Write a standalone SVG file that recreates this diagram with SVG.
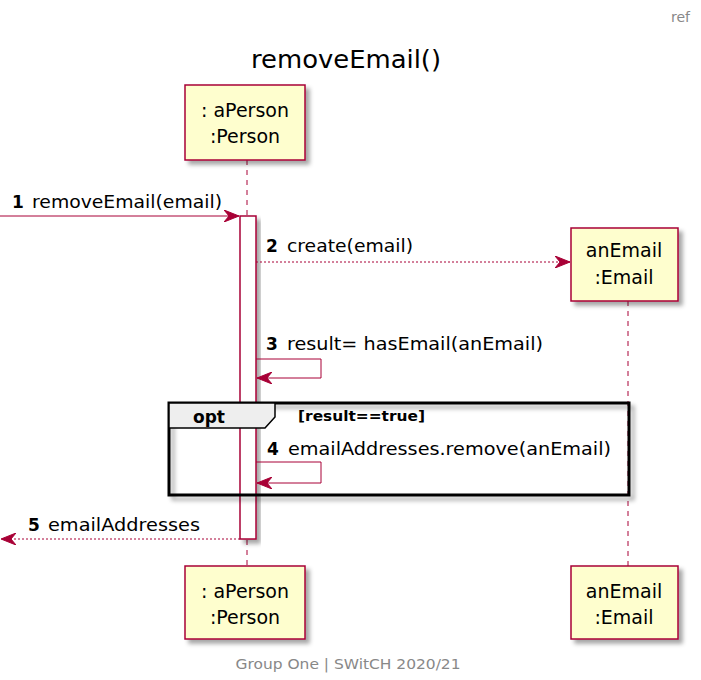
<svg xmlns="http://www.w3.org/2000/svg" width="701" height="680" viewBox="0 0 701 680">
<style>
text{font-family:"DejaVu Sans","Liberation Sans",sans-serif;fill:#000}
.box{fill:#FEFECE;stroke:#A80036;stroke-width:1.5}
.life{stroke:#A80036;stroke-width:1;stroke-dasharray:5,5;fill:none}
.msg{stroke:#A80036;stroke-width:1;fill:none}
.dot{stroke:#A80036;stroke-width:1;stroke-dasharray:2,2;fill:none}
.pt{font-size:19px;text-anchor:middle}
.mt{font-size:17px}
.num{font-weight:bold}
.gray{fill:#888888}
</style>
<defs>
<filter id="sh" x="-20%" y="-20%" width="150%" height="150%">
<feGaussianBlur in="SourceAlpha" stdDeviation="2"/>
<feOffset dx="4" dy="4" result="b"/>
<feFlood flood-color="#000" flood-opacity="0.35"/>
<feComposite in2="b" operator="in"/>
<feMerge><feMergeNode/><feMergeNode in="SourceGraphic"/></feMerge>
</filter>
<marker id="ah" viewBox="0 0 16 12" refX="15" refY="6" markerWidth="16" markerHeight="12" markerUnits="userSpaceOnUse" orient="auto">
<path d="M0,0 L15,6 L0,12 L5,6 Z" fill="#A80036" stroke="#A80036" stroke-width="1"/>
</marker>
</defs>
<rect width="701" height="680" fill="#fff"/>
<text x="690" y="22" class="gray" font-size="14" text-anchor="end">ref</text>
<text x="346" y="68" font-size="24" text-anchor="middle" textLength="190" lengthAdjust="spacingAndGlyphs">removeEmail()</text>

<g id="lifelines">
<line class="life" x1="247" y1="160" x2="247" y2="566"/>
<line class="life" x1="628" y1="301" x2="628" y2="566"/>
</g>

<g id="activation">
<rect x="240" y="216" width="16" height="323" fill="#fff" stroke="#A80036" stroke-width="1.5" filter="url(#sh)"/>
</g>

<g id="frame-opt">
<rect x="169" y="403" width="460" height="92" fill="none" stroke="#000" stroke-width="3" filter="url(#sh)"/>
<path d="M169,403 L275,403 L275,417 L265,428 L169,428 Z" fill="#EEEEEE" stroke="#000" stroke-width="1.5"/>
<text x="193" y="423" font-size="17" font-weight="bold">opt</text>
<text x="298" y="421" font-size="14" font-weight="bold" textLength="127" lengthAdjust="spacingAndGlyphs">[result==true]</text>
</g>

<g id="node-aPerson-top">
<rect class="box" x="185" y="85" width="120" height="75" filter="url(#sh)"/>
<text class="pt" x="245" y="117">: aPerson</text>
<text class="pt" x="245" y="143">:Person</text>
</g>
<g id="node-anEmail-top">
<rect class="box" x="571" y="228" width="107" height="73" filter="url(#sh)"/>
<text class="pt" x="624" y="257">anEmail</text>
<text class="pt" x="624" y="284">:Email</text>
</g>
<g id="node-aPerson-bottom">
<rect class="box" x="185" y="566" width="120" height="73" filter="url(#sh)"/>
<text class="pt" x="245" y="598">: aPerson</text>
<text class="pt" x="245" y="624">:Person</text>
</g>
<g id="node-anEmail-bottom">
<rect class="box" x="571" y="566" width="107" height="73" filter="url(#sh)"/>
<text class="pt" x="624" y="598">anEmail</text>
<text class="pt" x="624" y="624">:Email</text>
</g>

<g id="connectors">
<line class="msg" x1="0" y1="216" x2="239" y2="216" marker-end="url(#ah)"/>
<text class="mt" y="208"><tspan class="num" x="12">1</tspan><tspan x="32" textLength="190" lengthAdjust="spacingAndGlyphs">removeEmail(email)</tspan></text>

<line class="dot" x1="256" y1="262" x2="570" y2="262" marker-end="url(#ah)"/>
<text class="mt" y="252"><tspan class="num" x="266">2</tspan><tspan x="287" textLength="126" lengthAdjust="spacingAndGlyphs">create(email)</tspan></text>

<polyline class="msg" points="256,359 321,359 321,378 257,378" marker-end="url(#ah)"/>
<text class="mt" y="350"><tspan class="num" x="266">3</tspan><tspan x="287" textLength="256" lengthAdjust="spacingAndGlyphs">result= hasEmail(anEmail)</tspan></text>

<polyline class="msg" points="256,462 321,462 321,483 257,483" marker-end="url(#ah)"/>
<text class="mt" y="455"><tspan class="num" x="267">4</tspan><tspan x="288" textLength="323" lengthAdjust="spacingAndGlyphs">emailAddresses.remove(anEmail)</tspan></text>

<line class="dot" x1="240" y1="539" x2="1" y2="539" marker-end="url(#ah)"/>
<text class="mt" y="531"><tspan class="num" x="28">5</tspan><tspan x="48" textLength="152" lengthAdjust="spacingAndGlyphs">emailAddresses</tspan></text>
</g>

<text x="348" y="669" class="gray" font-size="14" text-anchor="middle" textLength="225" lengthAdjust="spacingAndGlyphs">Group One | SWitCH 2020/21</text>
</svg>
